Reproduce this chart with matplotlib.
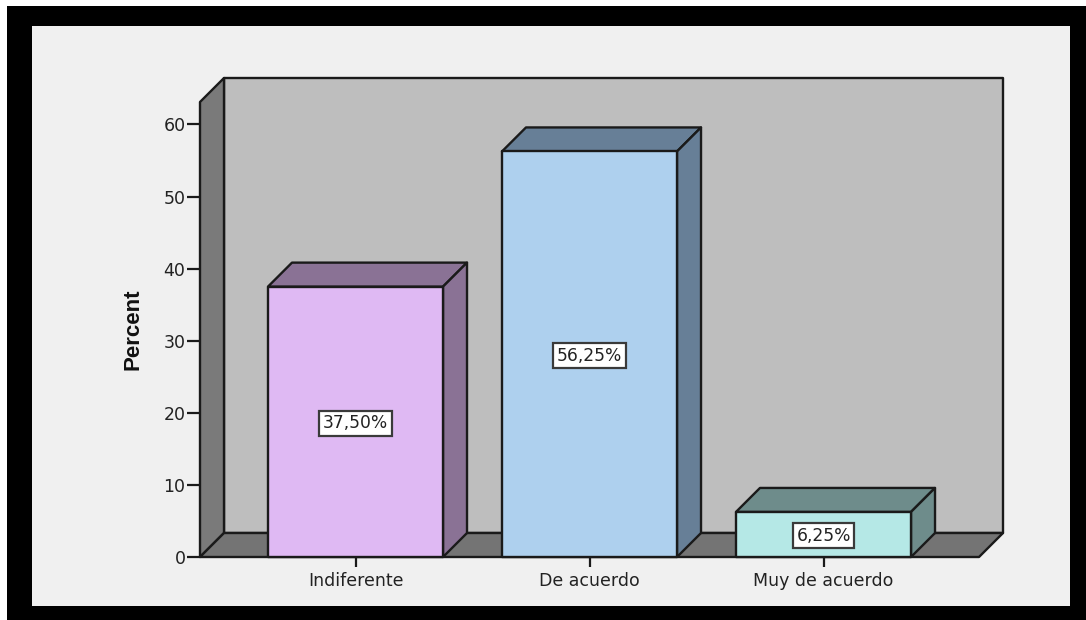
import matplotlib
matplotlib.use("Agg")
import matplotlib.pyplot as plt
from matplotlib.patches import Polygon, Rectangle

categories = ["Indiferente", "De acuerdo", "Muy de acuerdo"]
percents = [37.5, 56.25, 6.25]
bar_labels = ["37,50%", "56,25%", "6,25%"]
yticks = [0, 10, 20, 30, 40, 50, 60]
front_colors = ["#DFB9F3", "#AED0EE", "#B5E8E6"]
shade_colors = ["#8A7295", "#677F97", "#6E8C8B"]

W, H = 1086, 620
plt.rcParams["font.family"] = ["DejaVu Sans"]
fig = plt.figure(figsize=(W / 100, H / 100), dpi=100, facecolor="white")

def frame(x0, y0, x1, y1, color):
    fig.add_artist(Rectangle((x0 / W, 1 - y1 / H), (x1 - x0) / W, (y1 - y0) / H,
                             transform=fig.transFigure, facecolor=color,
                             edgecolor="none", zorder=-10))

frame(7, 6, W, H, "black")
frame(32, 26, 1070, 606, "#F0F0F0")

# front plane of the 3D box, in pixels
left, right, top, bottom = 200, 979, 102, 557
ax = fig.add_axes([left / W, 1 - bottom / H, (right - left) / W, (bottom - top) / H])
px_per_x = 234.0
px_per_y = 7.21
ax.set_xlim((left - 355.5) / px_per_x, (right - 355.5) / px_per_x)
ax.set_ylim(0, (bottom - top) / px_per_y)
ax.patch.set_visible(False)
for s in ax.spines.values():
    s.set_visible(False)

dx, dy = 24 / px_per_x, 24 / px_per_y
x0, x1 = ax.get_xlim()
y0, y1 = ax.get_ylim()
edge = "#1A1A1A"
lw = 1.7

def poly(pts, fc, z):
    ax.add_patch(Polygon(pts, closed=True, facecolor=fc, edgecolor=edge, linewidth=lw,
                         joinstyle="round", clip_on=False, zorder=z))

# walls and floor
poly([(x0 + dx, y0 + dy), (x1 + dx, y0 + dy), (x1 + dx, y1 + dy), (x0 + dx, y1 + dy)], "#BEBEBE", 1)
poly([(x0, y0), (x0 + dx, y0 + dy), (x0 + dx, y1 + dy), (x0, y1)], "#7A7A7A", 1.1)
poly([(x0, y0), (x1, y0), (x1 + dx, y0 + dy), (x0 + dx, y0 + dy)], "#747474", 1.1)

# bars
half = 0.374
for i, v in enumerate(percents):
    a, b = i - half, i + half
    poly([(a, v), (b, v), (b + dx, v + dy), (a + dx, v + dy)], shade_colors[i], 2)
    poly([(b, 0), (b + dx, dy), (b + dx, v + dy), (b, v)], shade_colors[i], 2)
    poly([(a, 0), (b, 0), (b, v), (a, v)], front_colors[i], 2.1)
    ax.text(i, v / 2 - 0.2, bar_labels[i], ha="center", va="center", fontsize=12.3, color="#222222",
            zorder=3, bbox=dict(boxstyle="square,pad=0.2", facecolor="white",
                                edgecolor="#3A3A3A", linewidth=1.6))

ax.set_xticks(range(len(categories)), categories)
ax.set_yticks(yticks)
ax.tick_params(axis="x", length=7.5, width=1.6, color=edge, labelsize=12.5,
               labelcolor="#222222", pad=3)
ax.tick_params(axis="y", length=9.5, width=1.6, color=edge, labelsize=12.5,
               labelcolor="#222222", pad=1)
for t in ax.xaxis.get_major_ticks() + ax.yaxis.get_major_ticks():
    t.tick1line.set_zorder(5)

fig.text(133 / W, 1 - 329 / H, "Percent", rotation=90, ha="center", va="center",
         family="Liberation Sans", fontsize=16, fontweight="bold", color="#111111")

fig.savefig("out.png", dpi=100, facecolor=fig.get_facecolor())
